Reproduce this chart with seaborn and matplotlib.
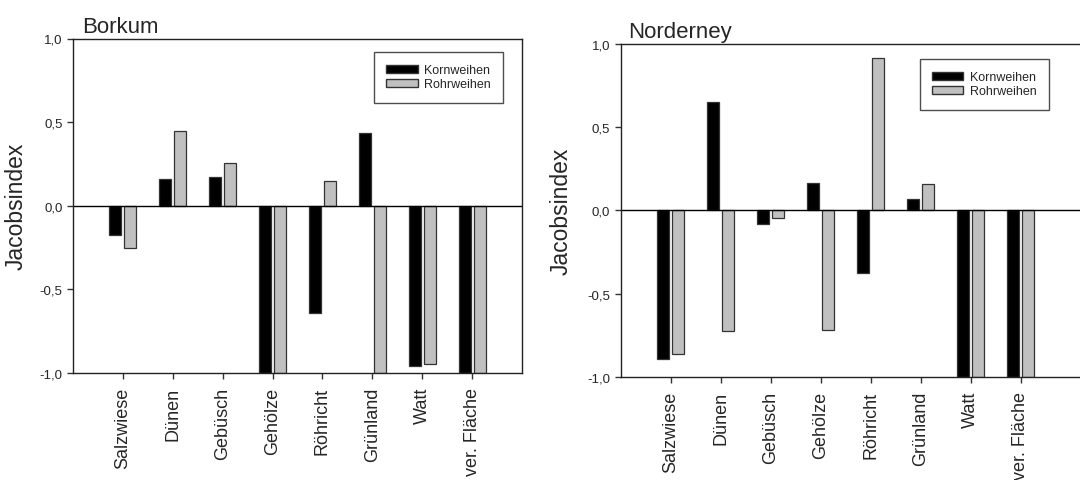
import pandas as pd
import matplotlib.pyplot as plt
import seaborn as sns
from matplotlib.patches import Patch

HABITATS = ['Salzwiese', 'Dünen', 'Gebüsch', 'Gehölze', 'Röhricht', 'Grünland', 'Watt', 'ver. Fläche']
SPECIES = ['Kornweihen', 'Rohrweihen']
COLORS = {'Kornweihen': '#000000', 'Rohrweihen': '#c0c0c0'}

BORKUM_KORN = [-0.175, 0.16, 0.17, -1.0, -0.643, 0.434, -0.956, -1.0]
BORKUM_ROHR = [-0.255, 0.448, 0.253, -1.0, 0.145, -1.0, -0.946, -1.0]
NORDERNEY_KORN = [-0.894, 0.649, -0.084, 0.162, -0.377, 0.070, -1.0, -1.0]
NORDERNEY_ROHR = [-0.866, -0.727, -0.044, -0.719, 0.914, 0.156, -1.0, -1.0]

Y_TICKS = [-1.0, -0.5, 0.0, 0.5, 1.0]
Y_TICKLABELS = ['-1,0', '-0,5', '0,0', '0,5', '1,0']


def make_df(korn, rohr):
    rows = []
    for h, k, r in zip(HABITATS, korn, rohr):
        rows.append({'Habitat': h, 'Art': 'Kornweihen', 'Jacobsindex': k})
        rows.append({'Habitat': h, 'Art': 'Rohrweihen', 'Jacobsindex': r})
    return pd.DataFrame(rows)


def draw_panel(ax, df, xmax, legend_anchor):
    sns.barplot(data=df, x='Habitat', y='Jacobsindex', hue='Art', hue_order=SPECIES,
                palette=COLORS, width=0.6, gap=0.2, edgecolor='#333333', linewidth=0.9,
                legend=False, ax=ax, errorbar=None)
    ax.axhline(0, color='black', linewidth=1)
    ax.set_xlim(-1, xmax)
    ax.set_ylim(-1, 1)
    ax.set_yticks(Y_TICKS)
    ax.set_yticklabels(Y_TICKLABELS, fontsize=9.5)
    ax.set_xticks(range(len(HABITATS)))
    ax.set_xticklabels(HABITATS, rotation=90, fontsize=13, va='top', ha='center')
    ax.set_xlabel('')
    ax.set_ylabel('Jacobsindex', fontsize=16.5)
    ax.yaxis.set_label_coords(-0.102, 0.5)
    ax.tick_params(axis='both', direction='out', length=4, width=1, color='#333333')
    ax.tick_params(axis='x', pad=6)
    for s in ax.spines.values():
        s.set_linewidth(1)
        s.set_color('#222222')

    # legend box drawn by hand, like the original
    handles = [Patch(facecolor=COLORS[s], edgecolor='#333333', label=s) for s in SPECIES]
    leg = ax.legend(handles=handles, loc='upper right', bbox_to_anchor=legend_anchor,
                    borderaxespad=0, fontsize=9, frameon=True, fancybox=False,
                    handlelength=2.5, handleheight=0.65, borderpad=1.0, labelspacing=0.15,
                    handletextpad=0.5)
    leg.get_frame().set_edgecolor('#222222')
    leg.get_frame().set_linewidth(1)


sns.set_style('ticks')
plt.rcParams['font.family'] = ['Liberation Sans', 'DejaVu Sans']

fig = plt.figure(figsize=(10.8, 4.81), dpi=100)
ax1 = fig.add_axes([73 / 1080, 107 / 481, 449 / 1080, 334.5 / 481])
ax2 = fig.add_axes([620.7 / 1080, 103.3 / 481, 469.3 / 1080, 332.7 / 481])

draw_panel(ax1, make_df(BORKUM_KORN, BORKUM_ROHR), 8, (0.958, 0.96))
draw_panel(ax2, make_df(NORDERNEY_KORN, NORDERNEY_ROHR), 8.386, (0.9126, 0.955))

fig.text(82 / 1080, 1 - 33 / 481, 'Borkum', fontsize=16, va='baseline', ha='left')
fig.text(628 / 1080, 1 - 38 / 481, 'Norderney', fontsize=16, va='baseline', ha='left')

fig.savefig('out.png', dpi=100)
